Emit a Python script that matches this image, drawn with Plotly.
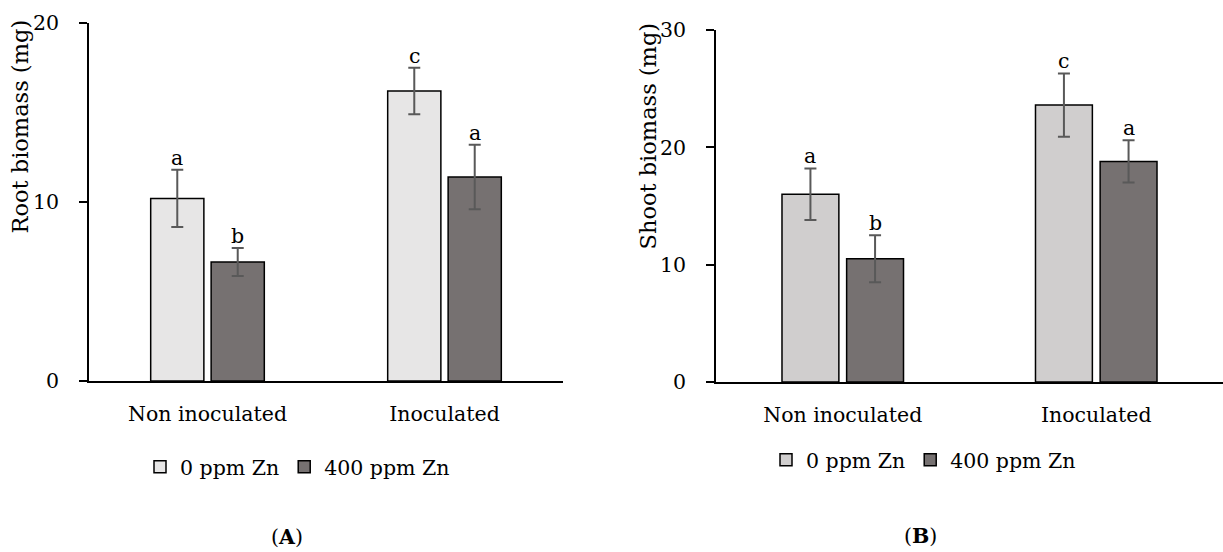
import plotly.graph_objects as go

categories = ["Non inoculated", "Inoculated"]
series_names = ["0 ppm Zn", "400 ppm Zn"]

root_0 = [10.2, 16.2]
root_0_err = [1.6, 1.3]
root_400 = [6.65, 11.4]
root_400_err = [0.78, 1.8]
root_letters_0 = ["a", "c"]
root_letters_400 = ["b", "a"]

shoot_0 = [16.0, 23.6]
shoot_0_err = [2.2, 2.7]
shoot_400 = [10.5, 18.8]
shoot_400_err = [2.0, 1.8]
shoot_letters_0 = ["a", "c"]
shoot_letters_400 = ["b", "a"]

root_ticks = [0, 10, 20]
shoot_ticks = [0, 10, 20, 30]

FONT = "DejaVu Serif"
FS = 20.5
FS_TITLE = 22.5
C_LIGHT_A = "#e7e6e6"
C_LIGHT_B = "#d0cece"
C_DARK = "#767171"
ERR_C = "#595959"

W, H = 1223, 552

fig = go.Figure()

def add_bars(vals, errs, name, color, xa, ya, legend, offsetgroup):
    fig.add_trace(go.Bar(
        x=categories, y=vals, name=name, xaxis=xa, yaxis=ya, legend=legend,
        offsetgroup=offsetgroup,
        marker=dict(color=color, line=dict(color="black", width=1.5)),
        error_y=dict(type="data", array=errs, visible=True, color=ERR_C, thickness=2, width=6),
        hoverinfo="skip",
    ))

add_bars(root_0, root_0_err, series_names[0], C_LIGHT_A, "x", "y", "legend", "1")
add_bars(root_400, root_400_err, series_names[1], C_DARK, "x", "y", "legend", "2")
add_bars(shoot_0, shoot_0_err, series_names[0], C_LIGHT_B, "x2", "y2", "legend2", "1")
add_bars(shoot_400, shoot_400_err, series_names[1], C_DARK, "x2", "y2", "legend2", "2")

BARGAP = 0.49
annotations = []
OFF = (1 - BARGAP) / 4  # bar centre offset from category centre, in category units

def add_letters(vals, errs, letters, sign, xref, yref):
    for i, (v, e, t) in enumerate(zip(vals, errs, letters)):
        annotations.append(dict(
            x=i + sign * OFF, y=v + e, xref=xref, yref=yref, text=t, showarrow=False,
            yanchor="bottom", xanchor="center", yshift=-2,
            font=dict(family=FONT, size=FS, color="black"),
        ))

add_letters(root_0, root_0_err, root_letters_0, -1, "x", "y")
add_letters(root_400, root_400_err, root_letters_400, 1, "x", "y")
add_letters(shoot_0, shoot_0_err, shoot_letters_0, -1, "x2", "y2")
add_letters(shoot_400, shoot_400_err, shoot_letters_400, 1, "x2", "y2")

annotations += [
    dict(x=20 / W, y=1 - 126.5 / H, xref="paper", yref="paper", text="Root biomass (mg)",
         textangle=-90, showarrow=False, xanchor="center", yanchor="middle",
         font=dict(family=FONT, size=FS_TITLE, color="black")),
    dict(x=648 / W, y=1 - 136.5 / H, xref="paper", yref="paper", text="Shoot biomass (mg)",
         textangle=-90, showarrow=False, xanchor="center", yanchor="middle",
         font=dict(family=FONT, size=FS_TITLE, color="black")),
    dict(x=287 / W, y=1 - 537 / H, xref="paper", yref="paper", text="(<b>A</b>)",
         showarrow=False, xanchor="center", yanchor="middle",
         font=dict(family=FONT, size=FS, color="black")),
    dict(x=920 / W, y=1 - 536 / H, xref="paper", yref="paper", text="(<b>B</b>)",
         showarrow=False, xanchor="center", yanchor="middle",
         font=dict(family=FONT, size=FS, color="black")),
]

axis_font = dict(family=FONT, size=FS, color="black")
xcommon = dict(type="category", range=[-0.5, 1.5], showline=True, linecolor="black", linewidth=1.5,
               ticks="", showgrid=False, zeroline=False, tickfont=axis_font, ticklabelstandoff=14,
               fixedrange=True, automargin=False)
ycommon = dict(showline=True, linecolor="black", linewidth=1.5, ticks="outside", ticklen=8,
               tickwidth=1.5, tickcolor="black", showgrid=False, zeroline=False, tickfont=axis_font,
               ticklabelstandoff=16, fixedrange=True, automargin=False)

fig.update_layout(
    width=W, height=H, margin=dict(l=0, r=0, t=0, b=0, autoexpand=False),
    paper_bgcolor="white", plot_bgcolor="white",
    font=dict(family=FONT, size=FS, color="black"),
    barmode="group", bargap=BARGAP, bargroupgap=0.12,
    xaxis=dict(domain=[89 / W, 563 / W], anchor="y", **xcommon),
    yaxis=dict(domain=[1 - 381 / H, 1 - 23 / H], anchor="x", range=[0, 20], tickvals=root_ticks, **ycommon),
    xaxis2=dict(domain=[716 / W, 1.0], anchor="y2", **xcommon),
    yaxis2=dict(domain=[1 - 382 / H, 1 - 30 / H], anchor="x2", range=[0, 30], tickvals=shoot_ticks, **ycommon),
    legend=dict(orientation="h", x=140 / W, y=1 - 467 / H, xanchor="left", yanchor="middle",
                font=dict(family=FONT, size=FS, color="black"), itemwidth=30,
                bgcolor="rgba(0,0,0,0)", itemclick=False, itemdoubleclick=False),
    legend2=dict(orientation="h", x=766 / W, y=1 - 460 / H, xanchor="left", yanchor="middle",
                 font=dict(family=FONT, size=FS, color="black"), itemwidth=30,
                 bgcolor="rgba(0,0,0,0)", itemclick=False, itemdoubleclick=False),
    annotations=annotations,
    showlegend=True,
)

fig.write_html("out.html", config={"displayModeBar": False},
               post_script="document.body.style.margin='0px';")
